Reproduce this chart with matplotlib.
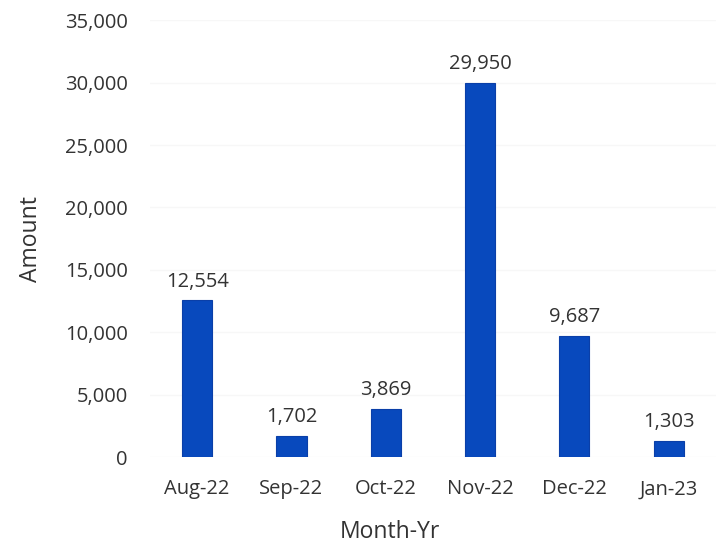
import numpy as np
import matplotlib.pyplot as plt
from matplotlib.ticker import FuncFormatter

plt.rcParams['font.family'] = ['Open Sans', 'DejaVu Sans']

months = ["Aug-22", "Sep-22", "Oct-22", "Nov-22", "Dec-22", "Jan-23"]
amounts = [12554, 1702, 3869, 29950, 9687, 1303]

fig = plt.figure(figsize=(7.23, 5.46), dpi=100)
ax = fig.add_axes([0.2075, 0.163, 0.7825, 0.800])

x = np.arange(len(months))
bars = ax.bar(x, amounts, width=0.32, color="#0849bd", edgecolor="#0a3fa8", linewidth=0.8, zorder=3)

for b, v in zip(bars, amounts):
    ax.text(b.get_x() + b.get_width() / 2, v + 700, f"{v:,}", ha="center", va="bottom",
            fontsize=14.5, color="#333333")

ax.set_xlim(-0.5, len(months) - 0.5)
ax.set_ylim(0, 35000)
ax.set_yticks(np.arange(0, 35001, 5000))
ax.yaxis.set_major_formatter(FuncFormatter(lambda v, p: f"{int(v):,}"))
ax.set_xticks(x)
ax.set_xticklabels(months)
ax.tick_params(axis="both", length=0, labelsize=14.5, colors="#333333")
ax.tick_params(axis="y", pad=16)
ax.tick_params(axis="x", pad=16)

ax.grid(axis="y", color="#f7f7f7", linewidth=1, zorder=0)
for s in ax.spines.values():
    s.set_visible(False)

ax.set_xlabel("Month-Yr", fontsize=16.5, color="#333333")
ax.xaxis.set_label_coords(0.424, -0.145)
ax.set_ylabel("Amount", fontsize=16.5, color="#333333", labelpad=16)

fig.savefig("out.png", dpi=100)
